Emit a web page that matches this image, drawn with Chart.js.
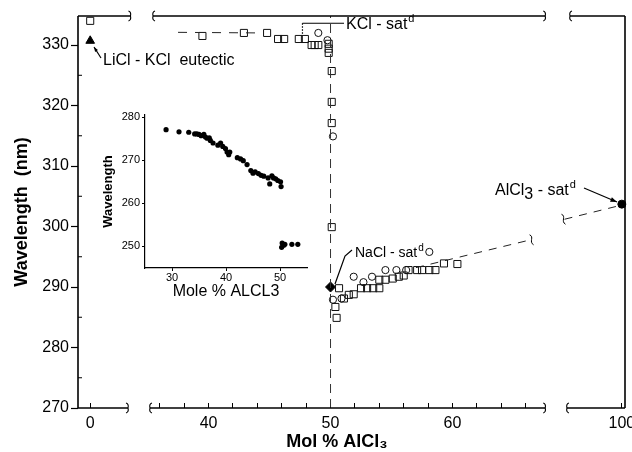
<!DOCTYPE html>
<html><head><meta charset="utf-8">
<script src="https://cdn.jsdelivr.net/npm/chart.js@4.4.1/dist/chart.umd.min.js"></script>
<style>
html,body{margin:0;padding:0;background:#fff;}
#wrap{position:relative;width:632px;height:452px;background:#fff;}
#main{position:absolute;left:0;top:0;width:632px;height:452px;}
#inset{position:absolute;left:95px;top:100px;width:225px;height:205px;}
</style></head><body>
<div id="wrap"><canvas id="main" width="632" height="452"></canvas><canvas id="inset" width="225" height="205"></canvas></div>
<script>
// ---------- data (real Mol % AlCl3, wavelength nm) ----------
const xTickValues = [0, 40, 50, 60, 100];
const xMinorValues = [36, 38, 42, 44, 46, 48, 52, 54, 56, 58, 62, 64, 66];
const yTickValues = [270, 280, 290, 300, 310, 320, 330];
const yMinorValues = [275, 285, 295, 305, 315, 325];

const squareX = [0, 39.5, 42.9, 44.8, 45.7, 46.2, 47.4, 47.9, 48.45, 48.7, 49.0, 49.85, 49.85, 49.85, 50.1, 50.1, 50.1, 50.1,
  50.7, 50.4, 50.5, 51.1, 51.5, 51.9, 52.5, 53.0, 53.5, 54.0, 54.0, 54.5, 55.1, 55.6, 56.0, 56.4, 57.1, 57.5, 58.1, 58.6, 59.3, 60.4];
const squareY = [334.0, 331.5, 332.0, 332.0, 331.0, 331.0, 331.0, 331.0, 330.0, 330.0, 330.0, 330.2, 329.4, 328.7, 325.7, 320.6, 317.1, 299.9,
  289.8, 286.7, 284.9, 288.1, 288.7, 288.8, 289.8, 289.8, 289.8, 289.8, 291.2, 291.2, 291.4, 291.7, 291.9, 292.8, 292.8, 292.8, 292.8, 292.8, 293.9, 293.8];

const circleX = [49.0, 49.75, 50.2, 50.2, 50.9, 51.9, 52.7, 53.4, 54.5, 55.4, 56.2, 58.1];
const circleY = [332.0, 330.8, 314.9, 287.9, 288.1, 291.7, 290.8, 291.7, 292.8, 292.8, 292.8, 295.8];

const triangleX = [0];      const triangleY = [330.7];   // LiCl-KCl eutectic
const diamondX = [50.0];    const diamondY = [290.0];    // NaCl-sat
const alcl3X = [100];       const alcl3Y = [303.7];      // AlCl3-sat

const vertLineX = [50, 50];        const vertLineY = [270, 334.8];
const kclGuideX = [37.5, 44.2];    const kclGuideY = [332.1, 332.0];
const naclGuideX = [57.0, 66.4];   const naclGuideY = [293.2, 297.8];
const alGuideX = [95.3, 99.7];     const alGuideY = [301.2, 303.4];

// inset
const insetX = [28.9, 31.3, 33.1, 34.2, 34.6, 35.0, 35.4, 35.9, 36.2, 36.5, 36.9, 37.1, 37.6, 38.5, 39.0, 39.4, 39.9, 40.2, 40.5, 40.7,
  42.1, 42.7, 43.2, 43.9, 44.6, 45.0, 45.4, 46.0, 46.5, 47.0, 47.8, 48.1, 48.5, 48.8, 49.2, 49.6, 50.1, 50.2,
  50.4, 50.7, 50.9, 52.2, 53.3, 50.3];
const insetY = [277.1, 276.6, 276.5, 276.1, 276.1, 276.0, 275.7, 276.0, 275.4, 275.1, 275.2, 274.6, 274.0, 273.5, 274.0, 273.2, 272.7, 271.9, 271.3, 271.9,
  270.6, 270.3, 269.9, 269.0, 267.6, 267.0, 267.3, 266.9, 266.5, 266.3, 265.9, 264.5, 266.4, 265.9, 265.7, 265.3, 265.0, 263.9,
  250.8, 250.3, 250.5, 250.5, 250.5, 249.8];
const insetXTicks = [30, 40, 50];
const insetYTicks = [250, 260, 270, 280];

// ---------- broken x axis mapping ----------
function toAxis(x) { if (x < 20) return x + 1; if (x < 80) return x - 29.3; return x - 55.42; }
const FONT = "'Liberation Sans', Arial, sans-serif";
Chart.defaults.font.family = FONT;
Chart.defaults.color = '#000';

const pts = (xs, ys) => xs.map((x, i) => ({ x: toAxis(x), y: ys[i] }));
const allXTicks = xTickValues.concat(xMinorValues).sort((a, b) => a - b);
function labelFor(u) {
  for (const v of xTickValues) if (Math.abs(toAxis(v) - u) < 1e-6) return String(v);
  return '';
}

function line(ctx, x1, y1, x2, y2) { ctx.beginPath(); ctx.moveTo(x1, y1); ctx.lineTo(x2, y2); ctx.stroke(); }
function breakEnd(ctx, x, y, dir) { // dir=1 -> ")" , dir=-1 -> "("
  ctx.beginPath();
  ctx.moveTo(x - 2 * dir, y - 5);
  ctx.quadraticCurveTo(x + 1 * dir, y - 4, x, y);
  ctx.quadraticCurveTo(x + 1 * dir, y + 4, x - 2 * dir, y + 5);
  ctx.stroke();
}
function squiggle(ctx, x, y) {
  ctx.beginPath();
  ctx.moveTo(x - 2, y - 5);
  ctx.bezierCurveTo(x + 3, y - 3, x - 3, y + 2, x + 2, y + 5);
  ctx.stroke();
}
function arrow(ctx, x1, y1, x2, y2, s) {
  line(ctx, x1, y1, x2, y2);
  const a = Math.atan2(y2 - y1, x2 - x1);
  ctx.beginPath();
  ctx.moveTo(x2, y2);
  ctx.lineTo(x2 - s * Math.cos(a - 0.35), y2 - s * Math.sin(a - 0.35));
  ctx.lineTo(x2 - s * Math.cos(a + 0.35), y2 - s * Math.sin(a + 0.35));
  ctx.closePath(); ctx.fill();
}
function textSup(ctx, txt, x, y, size, sup) {
  ctx.font = size + 'px ' + FONT;
  ctx.fillText(txt, x, y);
  const w = ctx.measureText(txt).width;
  ctx.font = Math.round(size * 0.7) + 'px ' + FONT;
  ctx.fillText(sup, x + w + 1, y - size * 0.45);
}

const decor = {
  id: 'decor',
  afterDraw(chart) {
    const ctx = chart.ctx, xs = chart.scales.x, ys = chart.scales.y, a = chart.chartArea;
    const X = v => xs.getPixelForValue(toAxis(v)), Y = v => ys.getPixelForValue(v);
    ctx.save();
    ctx.strokeStyle = '#000'; ctx.fillStyle = '#000'; ctx.lineWidth = 1.6;
    // left / right axis
    line(ctx, a.left, a.top, a.left, a.bottom);
    line(ctx, a.right, a.top, a.right, a.bottom);
    // bottom axis pieces
    const bot = [[a.left, X(3.1)], [X(35.2), X(67.6)], [X(95.5), a.right]];
    bot.forEach((s, i) => {
      line(ctx, s[0], a.bottom, s[1], a.bottom);
      ctx.lineWidth = 1.1;
      if (i < 2) breakEnd(ctx, s[1], a.bottom, 1);
      if (i > 0) breakEnd(ctx, s[0], a.bottom, -1);
      ctx.lineWidth = 1.6;
    });
    const top = [[a.left, X(3.3)], [X(35.45), X(67.6)], [X(95.75), a.right]];
    top.forEach((s, i) => {
      line(ctx, s[0], a.top, s[1], a.top);
      ctx.lineWidth = 1.1;
      if (i < 2) breakEnd(ctx, s[1], a.top, 1);
      if (i > 0) breakEnd(ctx, s[0], a.top, -1);
      ctx.lineWidth = 1.6;
    });
    // minor y ticks (inward)
    ctx.lineWidth = 1;
    yMinorValues.forEach(v => line(ctx, a.left, Y(v), a.left + 4, Y(v)));
    // guide line breaks
    squiggle(ctx, X(naclGuideX[1]) + 1, Y(naclGuideY[1]));
    squiggle(ctx, X(alGuideX[0]) - 1, Y(alGuideY[0]));

    // annotations
    ctx.fillStyle = '#000'; ctx.textBaseline = 'alphabetic'; ctx.textAlign = 'left';
    ctx.font = '16px ' + FONT;
    ctx.fillText('LiCl - KCl  eutectic', 103, 65);
    ctx.lineWidth = 1.2;
    arrow(ctx, 101, 58, 94, 47, 5);

    // KCl-sat bracket
    line(ctx, X(47.7), Y(333.6), 344, Y(333.6));
    ctx.setLineDash([1.5, 1.5]);
    line(ctx, X(47.7), Y(333.6), X(47.7), Y(331.8));
    ctx.setLineDash([]);
    textSup(ctx, 'KCl - sat', 346, 29, 16, 'd');

    // NaCl-sat
    ctx.beginPath(); ctx.moveTo(352, 250); ctx.lineTo(345, 256); ctx.lineTo(335, 284); ctx.stroke();
    textSup(ctx, 'NaCl - sat', 355, 257, 14, 'd');

    // AlCl3-sat
    ctx.font = '16px ' + FONT;
    let x0 = 495, y0 = 195;
    ctx.fillText('AlCl', x0, y0);
    let w = ctx.measureText('AlCl').width;
    ctx.fillText('3', x0 + w, y0 + 4);
    w += ctx.measureText('3').width;
    textSup(ctx, ' - sat', x0 + w, y0, 16, 'd');
    arrow(ctx, 584, 188, 617, 202, 7);

    // x axis title
    ctx.textAlign = 'center';
    ctx.font = 'bold 18px ' + FONT;
    ctx.fillText('Mol % AlCl\u2083', 337, 447);
    ctx.restore();
  }
};

new Chart(document.getElementById('main'), {
  type: 'scatter',
  data: {
    datasets: [
      { data: pts(vertLineX, vertLineY), showLine: true, borderColor: '#333', borderWidth: 1, borderDash: [9, 6], pointRadius: 0 },
      { data: pts(kclGuideX, kclGuideY), showLine: true, borderColor: '#222', borderWidth: 1, borderDash: [9, 8], pointRadius: 0 },
      { data: pts(naclGuideX, naclGuideY), showLine: true, borderColor: '#222', borderWidth: 1, borderDash: [8, 7], pointRadius: 0 },
      { data: pts(alGuideX, alGuideY), showLine: true, borderColor: '#222', borderWidth: 1, borderDash: [8, 7], pointRadius: 0 },
      { data: pts(squareX, squareY), pointStyle: 'rect', pointRadius: 5, borderColor: '#111', backgroundColor: 'rgba(0,0,0,0)', borderWidth: 1 },
      { data: pts(circleX, circleY), pointStyle: 'circle', pointRadius: 3.6, borderColor: '#111', backgroundColor: 'rgba(0,0,0,0)', borderWidth: 1 },
      { data: pts(triangleX, triangleY), pointStyle: 'triangle', pointRadius: 5, borderColor: '#000', backgroundColor: '#000', borderWidth: 1 },
      { data: pts(diamondX, diamondY), pointStyle: 'rectRot', pointRadius: 5, borderColor: '#000', backgroundColor: '#000', borderWidth: 1 },
      { data: pts(alcl3X, alcl3Y), pointStyle: 'circle', pointRadius: 4, borderColor: '#000', backgroundColor: '#000', borderWidth: 1 }
    ]
  },
  options: {
    responsive: false, animation: false, clip: false,
    layout: { padding: { left: 0, right: 7, top: 16, bottom: 0 } },
    plugins: { legend: { display: false }, tooltip: { enabled: false } },
    scales: {
      x: {
        type: 'linear', min: 0, max: 44.84,
        afterBuildTicks: s => { s.ticks = allXTicks.map(v => ({ value: toAxis(v) })); },
        afterFit: s => { s.height = 44; s.paddingLeft = 0; s.paddingRight = 0; },
        ticks: { autoSkip: false, maxRotation: 0, padding: 11, font: { size: 16 }, color: '#000', callback: v => labelFor(v) },
        grid: { drawOnChartArea: false, drawTicks: true, tickLength: -5, tickColor: '#000', tickWidth: 1 },
        border: { display: false }
      },
      y: {
        min: 270, max: 334.8,
        afterBuildTicks: s => { s.ticks = yTickValues.map(v => ({ value: v })); },
        afterFit: s => { s.width = 78; s.paddingTop = 0; s.paddingBottom = 0; },
        ticks: { padding: 2, font: { size: 16 }, color: '#000' },
        grid: { drawOnChartArea: false, drawTicks: true, tickLength: 7, tickColor: '#000', tickWidth: 1.2 },
        border: { display: false },
        title: { display: true, text: 'Wavelength  (nm)', font: { size: 18, weight: 'bold' }, color: '#000', padding: { top: 11, bottom: 0 } }
      }
    }
  },
  plugins: [decor]
});

new Chart(document.getElementById('inset'), {
  type: 'scatter',
  data: { datasets: [{ data: insetX.map((x, i) => ({ x: x, y: insetY[i] })), pointRadius: 2.6, backgroundColor: '#000', borderColor: '#000', borderWidth: 0 }] },
  options: {
    responsive: false, animation: false,
    layout: { padding: { left: 0, right: 13, top: 15, bottom: 0 } },
    plugins: { legend: { display: false }, tooltip: { enabled: false } },
    scales: {
      x: {
        type: 'linear', min: 25, max: 55,
        afterBuildTicks: s => { s.ticks = insetXTicks.map(v => ({ value: v })); },
        afterFit: s => { s.height = 37; s.paddingLeft = 0; s.paddingRight = 0; },
        ticks: { font: { size: 11 }, padding: 0, color: '#000' },
        grid: { drawOnChartArea: false, tickLength: 3, tickColor: '#000' },
        border: { display: true, color: '#000', width: 1.2 },
        title: { display: true, text: 'Mole % ALCL3', font: { size: 16 }, color: '#000', padding: { top: 0, bottom: 4 } }
      },
      y: {
        min: 245, max: 280.5,
        afterBuildTicks: s => { s.ticks = insetYTicks.map(v => ({ value: v })); },
        afterFit: s => { s.width = 50; s.paddingTop = 0; s.paddingBottom = 0; },
        ticks: { font: { size: 11 }, padding: 2, color: '#000' },
        grid: { drawOnChartArea: false, tickLength: 3, tickColor: '#000' },
        border: { display: true, color: '#000', width: 1.2 },
        title: { display: true, text: 'Wavelength', font: { size: 13, weight: 'bold' }, color: '#000', padding: { top: 6, bottom: 0 } }
      }
    }
  }
});
</script>
</body></html>
